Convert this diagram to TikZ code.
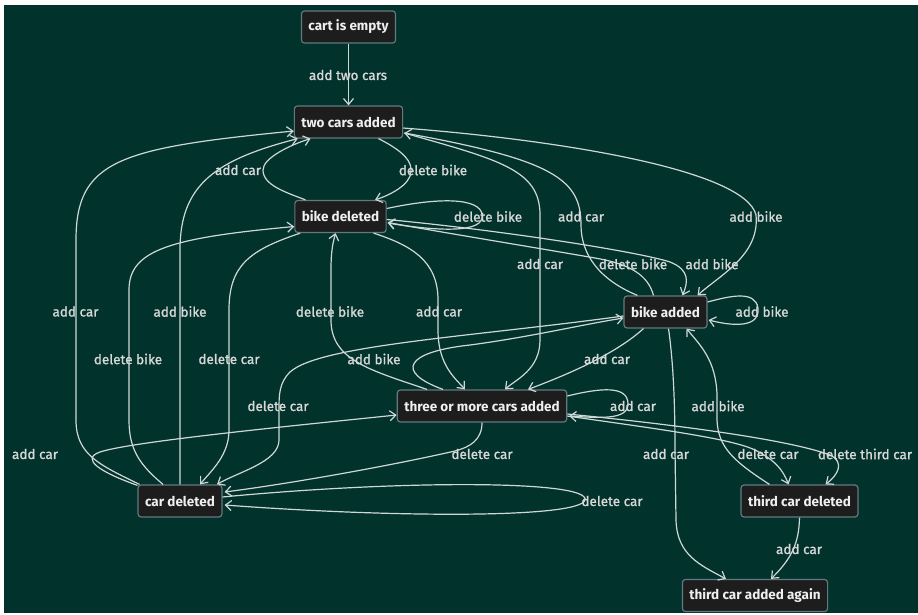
\documentclass[tikz,border=0pt]{standalone}
\usepackage{fontspec}
\setmainfont{Fira Sans}
\newfontfamily\edgefont{Fira Sans}[FakeBold=1.2]
\usetikzlibrary{arrows.meta,calc}
\definecolor{bg}{HTML}{01322C}
\definecolor{boxfill}{HTML}{1E1D1E}
\definecolor{boxline}{HTML}{627A7E}
\definecolor{wire}{HTML}{CFD8D6}
\definecolor{statetext}{HTML}{EFEFEF}
\definecolor{edgetext}{HTML}{D8D8D8}
\tikzset{
  state/.style={rectangle,rounded corners=3pt,draw=boxline,line width=1.2pt,fill=boxfill,
    minimum height=32pt,inner xsep=7pt,text=statetext,font=\fontsize{13.5}{15}\selectfont\bfseries},
  trans/.style={draw=wire,line width=1.2pt,-{Straight Barb[length=6pt,width=10pt]}},
  lbl/.style={text=edgetext,inner sep=1pt,font=\edgefont\fontsize{13.5}{15}\selectfont}
}

\begin{document}
\begin{tikzpicture}[x=1pt,y=-1pt]
  \fill[white] (0,0) rectangle (918,614);
  \fill[bg] (4,5) rectangle (918,613);
  \useasboundingbox (0,0) rectangle (918,614);

  \node[state] (empty) at (348.5,27) {cart is empty};
  \node[state] (two) at (348.5,122) {two cars added};
  \node[state] (bdel) at (340.5,216.5) {bike deleted};
  \node[state] (badd) at (665.5,312) {bike added};
  \node[state] (three) at (482,406) {three or more cars added};
  \node[state] (cdel) at (180,501) {car deleted};
  \node[state] (tdel) at (799.5,501) {third car deleted};
  \node[state] (again) at (755,595.5) {third car added again};

  \draw[trans] (empty) -- (two);
  \draw[trans] ($(two.south)+(30,0)$) .. controls (405,152) and (412,162) .. (411,172)
    .. controls (410,185) and (390,195) .. ($(bdel.north)+(34.5,0)$);
  \draw[trans] ($(bdel.north)+(-35,0)$) .. controls (285,192) and (263,185) .. (263,170)
    .. controls (263,158) and (290,145) .. ($(two.south)+(-38,0)$);
  \draw[trans] ($(bdel.east)+(0,-8)$) .. controls (450,195) and (485,200) .. (482,218)
    .. controls (479,234) and (430,230) .. ($(bdel.east)+(1,6.5)$);
  \draw[trans] ($(badd.north)+(-28,0)$) .. controls (600,280) and (581,255) .. (581,225)
    .. controls (581,180) and (555,160) .. ($(two.east)+(1,11)$);
  \draw[trans] ($(two.east)+(0,6)$) .. controls (560,140) and (745,170) .. (756,215)
    .. controls (760,255) and (720,275) .. ($(badd.north)+(32,0)$);
  \draw[trans] ($(two.east)+(1,11)$) .. controls (500,160) and (540,170) .. (540,215)
    -- (540,340) .. controls (540,370) and (515,380) .. ($(three.north)+(23,0)$);
  \draw[trans] ($(badd.north)+(-12,0)$) .. controls (648,275) and (630,264) .. (595,258)
    .. controls (520,245) and (440,232) .. ($(bdel.east)+(1,6)$);
  \draw[trans] ($(bdel.east)+(0,3)$) .. controls (500,230) and (640,252) .. (670,262)
    .. controls (690,270) and (688,282) .. ($(badd.north)+(17,0)$);
  \draw[trans] ($(cdel.north west)+(2,0)$) .. controls (100,465) and (76,455) .. (76,420)
    -- (76,240) .. controls (76,160) and (120,148) .. ($(two.west)+(0,9)$);
  \draw[trans] (cdel.north) -- (180,250) .. controls (180,185) and (215,160) .. ($(two.south west)+(4,0)$);
  \draw[trans] ($(three.north)+(-55,0)$) .. controls (370,370) and (331,360) .. (331,320)
    -- (331,270) .. controls (331,250) and (333,243) .. ($(bdel.south)+(-5,0)$);
  \draw[trans] ($(bdel.south)+(33,0)$) .. controls (410,245) and (438,260) .. (438,300)
    -- (438,330) .. controls (438,365) and (455,378) .. ($(three.north)+(-17,0)$);
  \draw[trans] ($(badd.east)+(0,-10)$) .. controls (730,296) and (755,290) .. (758,308)
    .. controls (760,325) and (740,328) .. ($(badd.east)+(1,8)$);
  \draw[trans] ($(cdel.north)+(-17,0)$) .. controls (140,465) and (129,450) .. (129,420)
    -- (129,290) .. controls (129,250) and (170,238) .. ($(bdel.west)+(0,10)$);
  \draw[trans] ($(bdel.south west)+(6,0)$) .. controls (250,250) and (229,265) .. (229,310)
    -- (229,430) .. controls (229,455) and (212,470) .. ($(cdel.north)+(20,0)$);
  \draw[trans] ($(three.north)+(-39,0)$) .. controls (395,372) and (405,352) .. (470,345)
    .. controls (530,337) and (580,325) .. ($(badd.west)+(0,6)$);
  \draw[trans] ($(badd.south west)+(20,0)$) .. controls (620,350) and (580,370) .. ($(three.north)+(46,0)$);
  \draw[trans] ($(badd.west)+(0,4)$) .. controls (470,337) and (320,345) .. (290,372)
    .. controls (279,383) and (279,395) .. (279,410) -- (279,440)
    .. controls (279,462) and (238,472) .. ($(cdel.north)+(37,0)$);
  \draw[trans] ($(three.east)+(0,-10)$) .. controls (600,388) and (628,385) .. (628,404)
    .. controls (628,420) and (600,418) .. ($(three.east)+(2,10)$);
  \draw[trans] ($(tdel.north west)+(29,0)$) .. controls (735,462) and (718,448) .. (717,420)
    -- (717,395) .. controls (716,360) and (700,345) .. ($(badd.south)+(21,0)$);
  \draw[trans] ($(cdel.north west)+(0,1)$) .. controls (100,472) and (80,459) .. (100,452)
    .. controls (130,442) and (280,427) .. ($(three.west)+(0,9)$);
  \draw[trans] (three.south) .. controls (482,440) and (470,447) .. (455,451)
    .. controls (380,468) and (280,485) .. ($(cdel.east)+(2,-9)$);
  \draw[trans] ($(badd.south)+(3,0)$) .. controls (673,360) and (675,400) .. (675,450)
    -- (676,520) .. controls (677,555) and (700,565) .. ($(again.north)+(-29,0)$);
  \draw[trans] ($(three.east)+(0,10)$) .. controls (650,428) and (730,438) .. (755,450)
    .. controls (775,460) and (783,470) .. ($(tdel.north)+(-11,0)$);
  \draw[trans] ($(three.east)+(0,8)$) .. controls (680,425) and (790,440) .. (830,455)
    .. controls (845,462) and (838,475) .. ($(tdel.north)+(26,0)$);
  \draw[trans] ($(cdel.east)+(0,-4)$) .. controls (400,480) and (590,480) .. (585,500)
    .. controls (580,518) and (400,518) .. ($(cdel.east)+(2,4)$);
  \draw[trans] (tdel.south) .. controls (799,545) and (790,560) .. ($(again.north)+(16,0)$);

  \node[lbl] (l1) at (348,75) {add two cars};
  \node[lbl] (l2) at (238,170) {add car};
  \node[lbl] (l3) at (433,170) {delete bike};
  \node[lbl] (l4) at (488,216.5) {delete bike};
  \node[lbl] (l5) at (581,216.5) {add car};
  \node[lbl] (l6) at (756,216.5) {add bike};
  \node[lbl] (l7) at (540,264) {add car};
  \node[lbl] (l8) at (633,264) {delete bike};
  \node[lbl] (l9) at (712,264) {add bike};
  \node[lbl] (l10) at (75.5,311.5) {add car};
  \node[lbl] (l11) at (180,311.5) {add bike};
  \node[lbl] (l12) at (330,311.5) {delete bike};
  \node[lbl] (l13) at (439,311.5) {add car};
  \node[lbl] (l14) at (762,311.5) {add bike};
  \node[lbl] (l15) at (128,359) {delete bike};
  \node[lbl] (l16) at (229,359) {delete car};
  \node[lbl] (l17) at (374,359) {add bike};
  \node[lbl] (l18) at (607,359) {add car};
  \node[lbl] (l19) at (278,406) {delete car};
  \node[lbl] (l20) at (633,406) {add car};
  \node[lbl] (l21) at (718,406) {add bike};
  \node[lbl] (l22) at (35,454) {add car};
  \node[lbl] (l23) at (482,454) {delete car};
  \node[lbl] (l24) at (666,454) {add car};
  \node[lbl] (l25) at (768,454) {delete car};
  \node[lbl] (l26) at (865,454) {delete third car};
  \node[lbl] (l27) at (612,501) {delete car};
  \node[lbl] (l28) at (799,549) {add car};
\end{tikzpicture}
\end{document}
